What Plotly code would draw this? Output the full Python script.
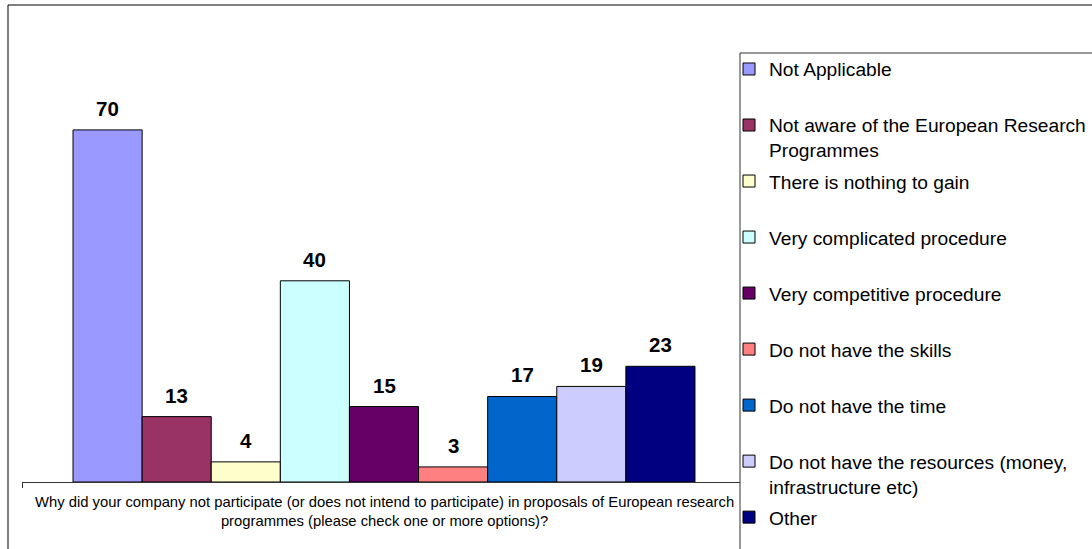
import plotly.graph_objects as go

# survey answers, one bar per answer
answers = [
    "Not Applicable",
    "Not aware of the European Research<br>Programmes",
    "There is nothing to gain",
    "Very complicated procedure",
    "Very competitive procedure",
    "Do not have the skills",
    "Do not have the time",
    "Do not have the resources (money,<br>infrastructure etc)",
    "Other",
]
counts = [70, 13, 4, 40, 15, 3, 17, 19, 23]
colors = [
    "#9999FF", "#993366", "#FFFFCC", "#CCFFFF", "#660066",
    "#FF8080", "#0066CC", "#CCCCFF", "#000080",
]
question = (
    "Why did your company not participate (or does not intend to participate) "
    "in proposals of European research<br>programmes (please check one or more options)?"
)

FONT = "Arial, Liberation Sans, sans-serif"
W, H = 1092, 549
L, R, T, B = 22, 346, 30, 67
pw, ph = W - L - R, H - T - B


def px_x(p):
    return (p - L) / pw


def px_y(p):
    return (H - B - p) / ph


pad = 51 / 69.08
x_lo, x_hi = -0.5 - pad, 8.5 + pad

fig = go.Figure()
for i, (name, val, col) in enumerate(zip(answers, counts, colors)):
    # every legend entry gets two lines so the entries are evenly spaced
    label = name if "<br>" in name else name + "<br> "
    fig.add_trace(
        go.Bar(
            x=[i],
            y=[val],
            width=1,
            name=label,
            legendgroup=str(i),
            marker=dict(color=col, line=dict(color="#000000", width=1)),
            hoverinfo="skip",
        )
    )
    fig.add_annotation(
        x=i, y=val, text=str(val), showarrow=False, yanchor="middle", yshift=21.5,
        font=dict(family=FONT, size=20.5, color="#000000", weight="bold"),
    )

fig.add_annotation(
    x=0.5, y=0, xref="paper", yref="paper", text=question, showarrow=False,
    yanchor="top", yshift=-10, align="center",
    font=dict(family=FONT, size=14.8, color="#000000"),
)

# outer chart border and legend box
fig.add_shape(
    type="rect", xref="paper", yref="paper",
    x0=px_x(8), x1=px_x(W + 50), y0=px_y(H + 50), y1=px_y(5),
    line=dict(color="#000000", width=1), fillcolor="rgba(0,0,0,0)", layer="below",
)
fig.add_shape(
    type="rect", xref="paper", yref="paper",
    x0=px_x(740), x1=px_x(W + 50), y0=px_y(H + 50), y1=px_y(53),
    line=dict(color="#333333", width=1), fillcolor="#FFFFFF", layer="above",
)

fig.update_xaxes(
    range=[x_lo, x_hi], showgrid=False, zeroline=False, showline=True,
    linecolor="#333333", linewidth=1, ticks="outside", ticklen=5,
    tickcolor="#333333", tickvals=[x_lo + 0.002], showticklabels=False,
)
fig.update_yaxes(range=[0, (H - B - T) / 5.03], visible=False)

fig.update_layout(
    width=W, height=H,
    margin=dict(l=L, r=R, t=T, b=B, autoexpand=False),
    plot_bgcolor="#FFFFFF", paper_bgcolor="#FFFFFF",
    barmode="overlay",
    showlegend=True,
    legend=dict(
        x=px_x(729), y=px_y(50), xanchor="left", yanchor="top",
        font=dict(family=FONT, size=19.2, color="#000000"),
        tracegroupgap=3.1, bgcolor="rgba(0,0,0,0)", borderwidth=0,
        traceorder="grouped", valign="top", maxheight=700,
    ),
)

fig.write_html(
    "out.html",
    config={"displayModeBar": False},
    post_script="document.body.style.margin = '0';",
)
